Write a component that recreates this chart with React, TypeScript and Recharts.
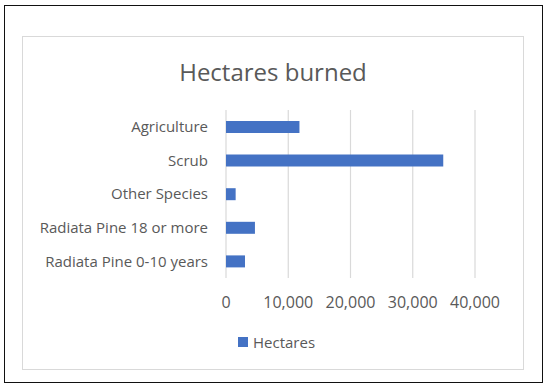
import React from "react";
import { BarChart, Bar, XAxis, YAxis, CartesianGrid } from "recharts";

const categories = [
  "Agriculture",
  "Scrub",
  "Other Species",
  "Radiata Pine 18 or more",
  "Radiata Pine 0-10 years",
];
const hectares = [11800, 34900, 1550, 4650, 3050];
const xTicks = [0, 10000, 20000, 30000, 40000];
const seriesName = "Hectares";
const title = "Hectares burned";

const data = categories.map((c, i) => ({ name: c, value: hectares[i] }));

const FONT = "'Open Sans', 'Liberation Sans', sans-serif";
const TEXT = "#595959";
const BLUE = "#4472C4";

const fmt = (v: number) => v.toLocaleString("en-US");

export default function App() {
  return (
    <div
      style={{
        position: "absolute",
        left: 0,
        top: 0,
        width: 550,
        height: 389,
        background: "#fff",
        overflow: "hidden",
      }}
    >
      <div
        style={{
          position: "absolute",
          left: 4,
          top: 5,
          width: 537,
          height: 376,
          border: "1.5px solid #111",
          boxSizing: "content-box",
        }}
      />
      <div
        style={{
          position: "absolute",
          left: 22,
          top: 36,
          width: 500,
          height: 332,
          border: "1.5px solid #d9d9d9",
        }}
      />
      <div
        style={{
          position: "absolute",
          left: 0,
          width: 550,
          top: 56,
          textAlign: "center",
          fontFamily: FONT,
          fontSize: 24,
          color: TEXT,
          lineHeight: "32px",
        }}
      >
        <span style={{ position: "relative", left: -2 }}>{title}</span>
      </div>
      <div style={{ position: "absolute", left: 0, top: 0 }}>
        <BarChart
          width={550}
          height={389}
          data={data}
          layout="vertical"
          margin={{ top: 110, right: 75, bottom: 81, left: 0 }}
        >
          <CartesianGrid horizontal={false} stroke="#d9d9d9" strokeWidth={1.2} />
          <XAxis
            type="number"
            domain={[0, 40000]}
            ticks={xTicks}
            tickFormatter={fmt}
            axisLine={false}
            tickLine={false}
            tickSize={0}
            tickMargin={19}
            height={30}
            interval={0}
            tick={{ fill: TEXT, fontFamily: FONT, fontSize: 16 }}
          />
          <YAxis
            type="category"
            dataKey="name"
            width={226}
            axisLine={false}
            tickLine={false}
            tickSize={0}
            tickMargin={18}
            interval={0}
            tick={{ fill: TEXT, fontFamily: FONT, fontSize: 15 }}
          />
          <Bar
            dataKey="value"
            name={seriesName}
            fill={BLUE}
            barSize={12}
            isAnimationActive={false}
          />
        </BarChart>
      </div>
      <div
        style={{
          position: "absolute",
          left: 238,
          top: 331,
          display: "flex",
          alignItems: "center",
          fontFamily: FONT,
          fontSize: 15,
          color: TEXT,
          lineHeight: "22px",
        }}
      >
        <span
          style={{
            display: "inline-block",
            width: 10,
            height: 10,
            background: BLUE,
            marginRight: 5,
          }}
        />
        <span>{seriesName}</span>
      </div>
    </div>
  );
}
